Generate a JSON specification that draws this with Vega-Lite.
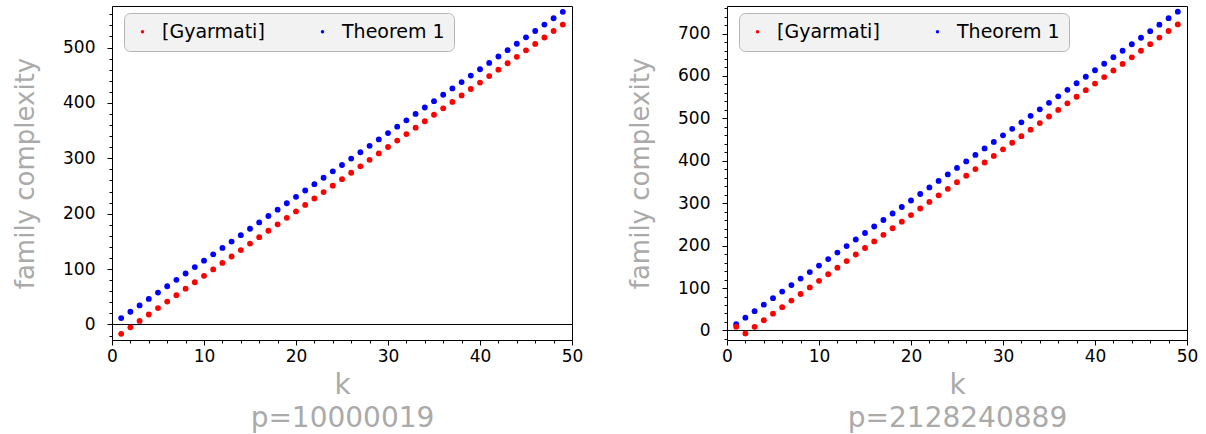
{
  "$schema": "https://vega.github.io/schema/vega-lite/v6.json",
  "padding": {"left": 12, "top": 5, "right": 0, "bottom": 0},
  "spacing": 43,
  "datasets": {
    "left": [
      {"k":1,"v":11.5,"s":"Theorem 1"},{"k":2,"v":23.0,"s":"Theorem 1"},{"k":3,"v":34.5,"s":"Theorem 1"},{"k":4,"v":46.1,"s":"Theorem 1"},{"k":5,"v":57.6,"s":"Theorem 1"},{"k":6,"v":69.1,"s":"Theorem 1"},{"k":7,"v":80.6,"s":"Theorem 1"},{"k":8,"v":92.1,"s":"Theorem 1"},{"k":9,"v":103.7,"s":"Theorem 1"},{"k":10,"v":115.2,"s":"Theorem 1"},
      {"k":11,"v":126.7,"s":"Theorem 1"},{"k":12,"v":138.2,"s":"Theorem 1"},{"k":13,"v":149.7,"s":"Theorem 1"},{"k":14,"v":161.3,"s":"Theorem 1"},{"k":15,"v":172.8,"s":"Theorem 1"},{"k":16,"v":184.3,"s":"Theorem 1"},{"k":17,"v":195.8,"s":"Theorem 1"},{"k":18,"v":207.3,"s":"Theorem 1"},{"k":19,"v":218.9,"s":"Theorem 1"},{"k":20,"v":230.4,"s":"Theorem 1"},
      {"k":21,"v":241.9,"s":"Theorem 1"},{"k":22,"v":253.4,"s":"Theorem 1"},{"k":23,"v":264.9,"s":"Theorem 1"},{"k":24,"v":276.5,"s":"Theorem 1"},{"k":25,"v":288.0,"s":"Theorem 1"},{"k":26,"v":299.5,"s":"Theorem 1"},{"k":27,"v":311.0,"s":"Theorem 1"},{"k":28,"v":322.5,"s":"Theorem 1"},{"k":29,"v":334.1,"s":"Theorem 1"},{"k":30,"v":345.6,"s":"Theorem 1"},
      {"k":31,"v":357.1,"s":"Theorem 1"},{"k":32,"v":368.6,"s":"Theorem 1"},{"k":33,"v":380.1,"s":"Theorem 1"},{"k":34,"v":391.7,"s":"Theorem 1"},{"k":35,"v":403.2,"s":"Theorem 1"},{"k":36,"v":414.7,"s":"Theorem 1"},{"k":37,"v":426.2,"s":"Theorem 1"},{"k":38,"v":437.7,"s":"Theorem 1"},{"k":39,"v":449.3,"s":"Theorem 1"},{"k":40,"v":460.8,"s":"Theorem 1"},
      {"k":41,"v":472.3,"s":"Theorem 1"},{"k":42,"v":483.8,"s":"Theorem 1"},{"k":43,"v":495.3,"s":"Theorem 1"},{"k":44,"v":506.9,"s":"Theorem 1"},{"k":45,"v":518.4,"s":"Theorem 1"},{"k":46,"v":529.9,"s":"Theorem 1"},{"k":47,"v":541.4,"s":"Theorem 1"},{"k":48,"v":552.9,"s":"Theorem 1"},{"k":49,"v":564.5,"s":"Theorem 1"},
      {"k":1,"v":-16.8,"s":"[Gyarmati]"},{"k":2,"v":-5.2,"s":"[Gyarmati]"},{"k":3,"v":6.5,"s":"[Gyarmati]"},{"k":4,"v":18.1,"s":"[Gyarmati]"},{"k":5,"v":29.7,"s":"[Gyarmati]"},{"k":6,"v":41.4,"s":"[Gyarmati]"},{"k":7,"v":53.0,"s":"[Gyarmati]"},{"k":8,"v":64.6,"s":"[Gyarmati]"},{"k":9,"v":76.2,"s":"[Gyarmati]"},{"k":10,"v":87.9,"s":"[Gyarmati]"},
      {"k":11,"v":99.5,"s":"[Gyarmati]"},{"k":12,"v":111.1,"s":"[Gyarmati]"},{"k":13,"v":122.8,"s":"[Gyarmati]"},{"k":14,"v":134.4,"s":"[Gyarmati]"},{"k":15,"v":146.0,"s":"[Gyarmati]"},{"k":16,"v":157.7,"s":"[Gyarmati]"},{"k":17,"v":169.3,"s":"[Gyarmati]"},{"k":18,"v":180.9,"s":"[Gyarmati]"},{"k":19,"v":192.5,"s":"[Gyarmati]"},{"k":20,"v":204.2,"s":"[Gyarmati]"},
      {"k":21,"v":215.8,"s":"[Gyarmati]"},{"k":22,"v":227.4,"s":"[Gyarmati]"},{"k":23,"v":239.1,"s":"[Gyarmati]"},{"k":24,"v":250.7,"s":"[Gyarmati]"},{"k":25,"v":262.3,"s":"[Gyarmati]"},{"k":26,"v":274.0,"s":"[Gyarmati]"},{"k":27,"v":285.6,"s":"[Gyarmati]"},{"k":28,"v":297.2,"s":"[Gyarmati]"},{"k":29,"v":308.8,"s":"[Gyarmati]"},{"k":30,"v":320.5,"s":"[Gyarmati]"},
      {"k":31,"v":332.1,"s":"[Gyarmati]"},{"k":32,"v":343.7,"s":"[Gyarmati]"},{"k":33,"v":355.4,"s":"[Gyarmati]"},{"k":34,"v":367.0,"s":"[Gyarmati]"},{"k":35,"v":378.6,"s":"[Gyarmati]"},{"k":36,"v":390.3,"s":"[Gyarmati]"},{"k":37,"v":401.9,"s":"[Gyarmati]"},{"k":38,"v":413.5,"s":"[Gyarmati]"},{"k":39,"v":425.1,"s":"[Gyarmati]"},{"k":40,"v":436.8,"s":"[Gyarmati]"},
      {"k":41,"v":448.4,"s":"[Gyarmati]"},{"k":42,"v":460.0,"s":"[Gyarmati]"},{"k":43,"v":471.7,"s":"[Gyarmati]"},{"k":44,"v":483.3,"s":"[Gyarmati]"},{"k":45,"v":494.9,"s":"[Gyarmati]"},{"k":46,"v":506.6,"s":"[Gyarmati]"},{"k":47,"v":518.2,"s":"[Gyarmati]"},{"k":48,"v":529.8,"s":"[Gyarmati]"},{"k":49,"v":541.4,"s":"[Gyarmati]"}
    ],
    "right": [
      {"k":1,"v":14.8,"s":"Theorem 1"},{"k":2,"v":30.2,"s":"Theorem 1"},{"k":3,"v":45.5,"s":"Theorem 1"},{"k":4,"v":60.9,"s":"Theorem 1"},{"k":5,"v":76.2,"s":"Theorem 1"},{"k":6,"v":91.6,"s":"Theorem 1"},{"k":7,"v":106.9,"s":"Theorem 1"},{"k":8,"v":122.3,"s":"Theorem 1"},{"k":9,"v":137.6,"s":"Theorem 1"},{"k":10,"v":153.0,"s":"Theorem 1"},
      {"k":11,"v":168.3,"s":"Theorem 1"},{"k":12,"v":183.7,"s":"Theorem 1"},{"k":13,"v":199.0,"s":"Theorem 1"},{"k":14,"v":214.4,"s":"Theorem 1"},{"k":15,"v":229.7,"s":"Theorem 1"},{"k":16,"v":245.1,"s":"Theorem 1"},{"k":17,"v":260.4,"s":"Theorem 1"},{"k":18,"v":275.8,"s":"Theorem 1"},{"k":19,"v":291.1,"s":"Theorem 1"},{"k":20,"v":306.5,"s":"Theorem 1"},
      {"k":21,"v":321.8,"s":"Theorem 1"},{"k":22,"v":337.2,"s":"Theorem 1"},{"k":23,"v":352.5,"s":"Theorem 1"},{"k":24,"v":367.9,"s":"Theorem 1"},{"k":25,"v":383.2,"s":"Theorem 1"},{"k":26,"v":398.6,"s":"Theorem 1"},{"k":27,"v":413.9,"s":"Theorem 1"},{"k":28,"v":429.3,"s":"Theorem 1"},{"k":29,"v":444.6,"s":"Theorem 1"},{"k":30,"v":460.0,"s":"Theorem 1"},
      {"k":31,"v":475.3,"s":"Theorem 1"},{"k":32,"v":490.7,"s":"Theorem 1"},{"k":33,"v":506.0,"s":"Theorem 1"},{"k":34,"v":521.4,"s":"Theorem 1"},{"k":35,"v":536.7,"s":"Theorem 1"},{"k":36,"v":552.1,"s":"Theorem 1"},{"k":37,"v":567.4,"s":"Theorem 1"},{"k":38,"v":582.8,"s":"Theorem 1"},{"k":39,"v":598.1,"s":"Theorem 1"},{"k":40,"v":613.5,"s":"Theorem 1"},
      {"k":41,"v":628.8,"s":"Theorem 1"},{"k":42,"v":644.2,"s":"Theorem 1"},{"k":43,"v":659.5,"s":"Theorem 1"},{"k":44,"v":674.9,"s":"Theorem 1"},{"k":45,"v":690.2,"s":"Theorem 1"},{"k":46,"v":705.6,"s":"Theorem 1"},{"k":47,"v":720.9,"s":"Theorem 1"},{"k":48,"v":736.3,"s":"Theorem 1"},{"k":49,"v":751.6,"s":"Theorem 1"},
      {"k":1,"v":9,"s":"[Gyarmati]"},{"k":2,"v":-7,"s":"[Gyarmati]"},{"k":3,"v":8.5,"s":"[Gyarmati]"},{"k":4,"v":24,"s":"[Gyarmati]"},{"k":5,"v":39.5,"s":"[Gyarmati]"},{"k":6,"v":55,"s":"[Gyarmati]"},{"k":7,"v":70.5,"s":"[Gyarmati]"},{"k":8,"v":86,"s":"[Gyarmati]"},{"k":9,"v":101.5,"s":"[Gyarmati]"},{"k":10,"v":117,"s":"[Gyarmati]"},
      {"k":11,"v":132.5,"s":"[Gyarmati]"},{"k":12,"v":148,"s":"[Gyarmati]"},{"k":13,"v":163.5,"s":"[Gyarmati]"},{"k":14,"v":179,"s":"[Gyarmati]"},{"k":15,"v":194.5,"s":"[Gyarmati]"},{"k":16,"v":210,"s":"[Gyarmati]"},{"k":17,"v":225.5,"s":"[Gyarmati]"},{"k":18,"v":241,"s":"[Gyarmati]"},{"k":19,"v":256.5,"s":"[Gyarmati]"},{"k":20,"v":272,"s":"[Gyarmati]"},
      {"k":21,"v":287.5,"s":"[Gyarmati]"},{"k":22,"v":303,"s":"[Gyarmati]"},{"k":23,"v":318.5,"s":"[Gyarmati]"},{"k":24,"v":334,"s":"[Gyarmati]"},{"k":25,"v":349.5,"s":"[Gyarmati]"},{"k":26,"v":365,"s":"[Gyarmati]"},{"k":27,"v":380.5,"s":"[Gyarmati]"},{"k":28,"v":396,"s":"[Gyarmati]"},{"k":29,"v":411.5,"s":"[Gyarmati]"},{"k":30,"v":427,"s":"[Gyarmati]"},
      {"k":31,"v":442.5,"s":"[Gyarmati]"},{"k":32,"v":458,"s":"[Gyarmati]"},{"k":33,"v":473.5,"s":"[Gyarmati]"},{"k":34,"v":489,"s":"[Gyarmati]"},{"k":35,"v":504.5,"s":"[Gyarmati]"},{"k":36,"v":520,"s":"[Gyarmati]"},{"k":37,"v":535.5,"s":"[Gyarmati]"},{"k":38,"v":551,"s":"[Gyarmati]"},{"k":39,"v":566.5,"s":"[Gyarmati]"},{"k":40,"v":582,"s":"[Gyarmati]"},
      {"k":41,"v":597.5,"s":"[Gyarmati]"},{"k":42,"v":613,"s":"[Gyarmati]"},{"k":43,"v":628.5,"s":"[Gyarmati]"},{"k":44,"v":644,"s":"[Gyarmati]"},{"k":45,"v":659.5,"s":"[Gyarmati]"},{"k":46,"v":675,"s":"[Gyarmati]"},{"k":47,"v":690.5,"s":"[Gyarmati]"},{"k":48,"v":706,"s":"[Gyarmati]"},{"k":49,"v":721.5,"s":"[Gyarmati]"}
    ]
  },
  "hconcat": [
    {
      "width": 460, "height": 334,
      "layer": [
        {
          "data": {"values": [{}]},
          "mark": {"type": "rule", "color": "black", "strokeWidth": 1},
          "encoding": {"y": {"datum": 0, "type": "quantitative",
            "axis": {"orient": "left", "values": [-20,20,40,60,80,120,140,160,180,220,240,260,280,320,340,360,380,420,440,460,480,520,540,560], "labels": false, "tickSize": 3, "title": null}}}
        },
        {
          "data": {"values": [{}]},
          "mark": {"type": "rule", "strokeOpacity": 0},
          "encoding": {"x": {"datum": 0, "type": "quantitative",
            "axis": {"orient": "bottom", "values": [2,4,6,8,12,14,16,18,22,24,26,28,32,34,36,38,42,44,46,48], "labels": false, "tickSize": 3, "title": null}}}
        },
        {
          "data": {"name": "left"},
          "mark": {"type": "circle", "size": 34, "opacity": 1},
          "encoding": {
            "x": {"field": "k", "type": "quantitative", "scale": {"domain": [0, 50], "nice": false, "zero": false},
              "axis": {"orient": "bottom", "values": [0,10,20,30,40,50], "tickSize": 5, "labelPadding": 3, "labelFlush": false, "title": ["k", "p=10000019"], "titlePadding": 7, "titleFontSize": 28, "titleLineHeight": 33}},
            "y": {"field": "v", "type": "quantitative", "scale": {"domain": [-28, 575], "nice": false, "zero": false},
              "axis": {"orient": "left", "values": [0,100,200,300,400,500], "tickSize": 5, "labelPadding": 12, "title": "family complexity", "titlePadding": 24}},
            "color": {"field": "s", "type": "nominal", "scale": {"domain": ["[Gyarmati]", "Theorem 1"], "range": ["#ff0000", "#0000ff"]},
              "legend": {"orient": "none", "legendX": 12, "legendY": 7}}
          }
        }
      ],
      "resolve": {"axis": {"x": "independent", "y": "independent"}}
    },
    {
      "width": 460, "height": 334,
      "layer": [
        {
          "data": {"values": [{}]},
          "mark": {"type": "rule", "color": "black", "strokeWidth": 1},
          "encoding": {"y": {"datum": 0, "type": "quantitative",
            "axis": {"orient": "left", "values": [-20,20,40,60,80,120,140,160,180,220,240,260,280,320,340,360,380,420,440,460,480,520,540,560,580,620,640,660,680,720,740,760], "labels": false, "tickSize": 3, "title": null}}}
        },
        {
          "data": {"values": [{}]},
          "mark": {"type": "rule", "strokeOpacity": 0},
          "encoding": {"x": {"datum": 0, "type": "quantitative",
            "axis": {"orient": "bottom", "values": [2,4,6,8,12,14,16,18,22,24,26,28,32,34,36,38,42,44,46,48], "labels": false, "tickSize": 3, "title": null}}}
        },
        {
          "data": {"name": "right"},
          "mark": {"type": "circle", "size": 34, "opacity": 1},
          "encoding": {
            "x": {"field": "k", "type": "quantitative", "scale": {"domain": [0, 50], "nice": false, "zero": false},
              "axis": {"orient": "bottom", "values": [0,10,20,30,40,50], "tickSize": 5, "labelPadding": 3, "labelFlush": false, "title": ["k", "p=2128240889"], "titlePadding": 7, "titleFontSize": 28, "titleLineHeight": 33}},
            "y": {"field": "v", "type": "quantitative", "scale": {"domain": [-22.5, 765], "nice": false, "zero": false},
              "axis": {"orient": "left", "values": [0,100,200,300,400,500,600,700], "tickSize": 5, "labelPadding": 12, "title": "family complexity", "titlePadding": 24}},
            "color": {"field": "s", "type": "nominal", "scale": {"domain": ["[Gyarmati]", "Theorem 1"], "range": ["#ff0000", "#0000ff"]},
              "legend": {"orient": "none", "legendX": 12, "legendY": 7}}
          }
        }
      ],
      "resolve": {"axis": {"x": "independent", "y": "independent"}}
    }
  ],
  "resolve": {"scale": {"color": "independent"}, "legend": {"color": "independent"}},
  "config": {
    "font": "DejaVu Sans",
    "view": {"stroke": "black", "strokeWidth": 1},
    "axis": {"grid": false, "domain": false, "tickColor": "black", "tickWidth": 1, "labelColor": "black", "labelFont": "DejaVu Sans", "labelFontSize": 17, "titleFont": "DejaVu Sans", "titleFontWeight": "normal", "titleColor": "#aaaaaa", "titleFontSize": 26},
    "legend": {"direction": "horizontal", "title": null, "fillColor": "#f2f2f2", "strokeColor": "#b5b5b5", "cornerRadius": 6, "padding": 9, "labelFont": "DejaVu Sans", "labelFontSize": 19, "labelColor": "black", "symbolType": "circle", "symbolSize": 12, "symbolStrokeWidth": 0, "labelOffset": 10, "columnPadding": 48}
  }
}
